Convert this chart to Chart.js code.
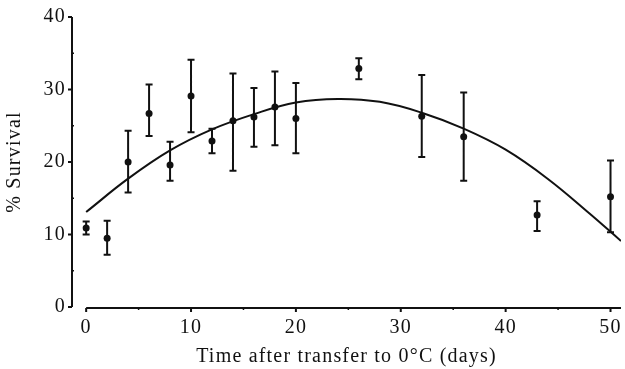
<!DOCTYPE html>
<html>
<head>
<meta charset="utf-8">
<script src="https://cdn.jsdelivr.net/npm/chart.js@4.4.0/dist/chart.umd.min.js"></script>
<style>
  html,body{margin:0;padding:0;background:#fff}
  #wrap{width:625px;height:369px}
</style>
</head>
<body>
<div id="wrap"><canvas id="chart"></canvas></div>
<script>
// measured points (days, % survival, error bar ends)
const days      = [0, 2, 4, 6, 8, 10, 12, 14, 16, 18, 20, 26, 32, 36, 43, 50];
const survival  = [10.9, 9.5, 20.0, 26.7, 19.6, 29.1, 22.9, 25.7, 26.2, 27.6, 26.0, 32.9, 26.3, 23.5, 12.7, 15.2];
const errLow    = [10.0, 7.2, 15.8, 23.6, 17.4, 24.1, 21.2, 18.8, 22.1, 22.3, 21.2, 31.4, 20.7, 17.4, 10.5, 10.3];
const errHigh   = [11.8, 11.9, 24.3, 30.7, 22.8, 34.1, 24.6, 32.2, 30.2, 32.5, 30.9, 34.3, 32.0, 29.6, 14.6, 20.2];

// fitted curve
const fitDays     = [0, 4, 8, 12, 16, 20, 24, 28, 32, 36, 40, 44, 48, 51];
const fitSurvival = [13.1, 17.7, 21.6, 24.5, 26.6, 28.2, 28.7, 28.3, 26.8, 24.6, 21.7, 17.7, 12.9, 9.1];

const xTicks = [0, 10, 20, 30, 40, 50];
const yTicks = [0, 10, 20, 30, 40];
const xMinor = [5, 15, 25, 35, 45];
const yMinor = [5, 15, 25, 35];

const FONT = {family:'"Liberation Serif", "Times New Roman", serif', size:20};

// error bars + hand drawn axes (axis lines are split in the original)
const extras = {
  id:'extras',
  beforeDraw(chart){
    chart.ctx.letterSpacing = '1.2px';
  },
  afterDatasetsDraw(chart){
    const ctx = chart.ctx, x = chart.scales.x, y = chart.scales.y;
    ctx.save();
    ctx.strokeStyle = '#111';
    ctx.lineWidth = 2;
    ctx.beginPath();
    days.forEach((d, i) => {
      const px = x.getPixelForValue(d);
      const lo = y.getPixelForValue(errLow[i]);
      const hi = y.getPixelForValue(errHigh[i]);
      ctx.moveTo(px, lo); ctx.lineTo(px, hi);
      ctx.moveTo(px - 3.5, lo); ctx.lineTo(px + 3.5, lo);
      ctx.moveTo(px - 3.5, hi); ctx.lineTo(px + 3.5, hi);
    });
    ctx.stroke();

    // y axis
    const ax = chart.chartArea.left;
    ctx.beginPath();
    ctx.moveTo(ax, y.getPixelForValue(0));
    ctx.lineTo(ax, y.getPixelForValue(40));
    yTicks.forEach(v => {
      const py = y.getPixelForValue(v);
      ctx.moveTo(ax - 4, py); ctx.lineTo(ax, py);
    });
    ctx.stroke();
    ctx.lineWidth = 1.5;
    ctx.beginPath();
    yMinor.forEach(v => {
      const py = y.getPixelForValue(v);
      ctx.moveTo(ax, py); ctx.lineTo(ax + 2, py);
    });
    ctx.stroke();

    // x axis
    const ay = y.getPixelForValue(0) + 1;
    ctx.lineWidth = 2;
    ctx.beginPath();
    ctx.moveTo(x.getPixelForValue(0), ay);
    ctx.lineTo(x.getPixelForValue(51), ay);
    xTicks.forEach(v => {
      const px = x.getPixelForValue(v);
      ctx.moveTo(px, ay); ctx.lineTo(px, ay + 4);
    });
    ctx.stroke();
    ctx.lineWidth = 1.5;
    ctx.beginPath();
    xMinor.forEach(v => {
      const px = x.getPixelForValue(v);
      ctx.moveTo(px, ay); ctx.lineTo(px, ay + 2);
    });
    ctx.stroke();
    ctx.restore();
  }
};

new Chart(document.getElementById('chart').getContext('2d'), {
  type:'scatter',
  data:{ datasets:[
    { label:'fit', data: fitDays.map((d, i) => ({x:d, y:fitSurvival[i]})),
      showLine:true, tension:0.4, borderColor:'#111', borderWidth:2, pointRadius:0 },
    { label:'survival', data: days.map((d, i) => ({x:d, y:survival[i]})),
      pointRadius:3.5, pointBackgroundColor:'#111', pointBorderWidth:0 }
  ]},
  options:{
    responsive:true, maintainAspectRatio:false, animation:false,
    layout:{ padding:{top:17, right:0, bottom:0, left:0} },
    plugins:{ legend:{display:false}, tooltip:{enabled:false} },
    scales:{
      x:{
        type:'linear', min:-1.35, max:51,
        grid:{display:false, drawTicks:false}, border:{display:false},
        ticks:{ font:FONT, color:'#111', padding:9 },
        afterBuildTicks: s => { s.ticks = xTicks.map(v => ({value:v})); },
        afterFit: s => { s.height = 62; s.paddingLeft = 0; s.paddingRight = 0; },
        title:{ display:true, text:'Time after transfer to 0°C (days)', font:FONT, color:'#111',
          padding:{top:0, bottom:0} }
      },
      y:{
        type:'linear', min:0, max:40,
        grid:{display:false, drawTicks:false}, border:{display:false},
        ticks:{ font:FONT, color:'#111', padding:6 },
        afterBuildTicks: s => { s.ticks = yTicks.map(v => ({value:v})); },
        afterFit: s => { s.width = 72; s.paddingTop = 0; s.paddingBottom = 0; },
        title:{ display:true, text:'% Survival', font:FONT, color:'#111', padding:{top:3, bottom:4} }
      }
    }
  },
  plugins:[extras]
});
</script>
</body>
</html>
